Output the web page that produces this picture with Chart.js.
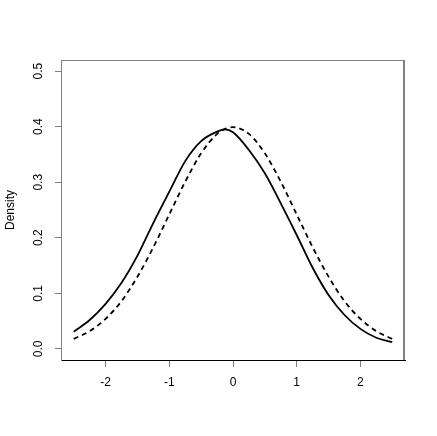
<!DOCTYPE html>
<html>
<head>
<meta charset="utf-8">
<script src="https://cdn.jsdelivr.net/npm/chart.js@4.4.1/dist/chart.umd.min.js"></script>
<style>
  html, body { margin: 0; padding: 0; background: #fff; }
  #wrap { width: 437px; height: 436px; position: relative; }
</style>
</head>
<body>
<div id="wrap"><canvas id="densityChart"></canvas></div>
<script>
// valores (x = punto de evaluacion, y = densidad)
const xGrid = [-2.5, -2.25, -2, -1.75, -1.5, -1.25, -1, -0.75, -0.5, -0.25, -0.125, 0, 0.25, 0.5, 0.75, 1, 1.25, 1.5, 1.75, 2, 2.25, 2.5];
const sampleDensity = [0.031, 0.052, 0.081, 0.119, 0.168, 0.227, 0.283, 0.338, 0.374, 0.391, 0.395, 0.390, 0.358, 0.316, 0.262, 0.205, 0.146, 0.097, 0.061, 0.036, 0.020, 0.012];
const normalDensity = [0.018, 0.032, 0.054, 0.086, 0.130, 0.183, 0.242, 0.301, 0.352, 0.387, 0.396, 0.399, 0.387, 0.352, 0.301, 0.242, 0.183, 0.130, 0.086, 0.054, 0.032, 0.018];
const xTicks = [-2, -1, 0, 1, 2];
const yTicks = [0, 0.1, 0.2, 0.3, 0.4, 0.5];
const yTickLabels = ['0.0', '0.1', '0.2', '0.3', '0.4', '0.5'];

const fontFamily = '"Liberation Sans", Arial, sans-serif';
const frameGray = '#808080';

function toPoints(xs, ys) {
    return xs.map((x, i) => ({ x: x, y: ys[i] }));
}

// caja alrededor del area de dibujo + etiquetas del eje y giradas (estilo R)
const frameAndLabels = {
    id: 'frameAndLabels',
    afterDraw(chart) {
        const ctx = chart.ctx;
        const a = chart.chartArea;
        const yScale = chart.scales.y;
        ctx.save();
        ctx.strokeStyle = frameGray;
        ctx.lineWidth = 1;
        ctx.beginPath();
        ctx.moveTo(a.left + 0.5, a.bottom);
        ctx.lineTo(a.left + 0.5, a.top + 0.5);
        ctx.lineTo(a.right, a.top + 0.5);
        ctx.stroke();
        ctx.lineWidth = 2;
        ctx.beginPath();
        ctx.moveTo(a.right - 1, a.top);
        ctx.lineTo(a.right - 1, a.bottom);
        ctx.stroke();
        ctx.fillStyle = '#000';
        ctx.font = '12px ' + fontFamily;
        ctx.textAlign = 'center';
        ctx.textBaseline = 'middle';
        yTicks.forEach((v, i) => {
            const py = yScale.getPixelForValue(v);
            ctx.save();
            ctx.translate(39, py);
            ctx.rotate(-Math.PI / 2);
            ctx.fillText(yTickLabels[i], 0, 0);
            ctx.restore();
        });
        ctx.restore();
    }
};

new Chart(document.getElementById('densityChart'), {
    type: 'line',
    data: {
        datasets: [
            {
                label: 'muestra',
                data: toPoints(xGrid, sampleDensity),
                borderColor: '#000',
                borderWidth: 1.8,
                pointRadius: 0,
                cubicInterpolationMode: 'monotone',
                fill: false
            },
            {
                label: 'normal',
                data: toPoints(xGrid, normalDensity),
                borderColor: '#000',
                borderWidth: 1.8,
                borderDash: [5, 4],
                pointRadius: 0,
                cubicInterpolationMode: 'monotone',
                fill: false
            }
        ]
    },
    options: {
        responsive: true,
        maintainAspectRatio: false,
        animation: false,
        layout: { padding: { top: 60, right: 32, left: 0, bottom: 0 } },
        plugins: {
            legend: { display: false },
            tooltip: { enabled: false }
        },
        scales: {
            x: {
                type: 'linear',
                min: -2.7,
                max: 2.7,
                afterBuildTicks: scale => { scale.ticks = xTicks.map(v => ({ value: v })); },
                afterFit: scale => { scale.height = 76; },
                grid: { drawOnChartArea: false, drawTicks: true, tickLength: 7, color: frameGray },
                border: { display: true, color: '#000' },
                ticks: {
                    color: '#000',
                    padding: 8,
                    maxRotation: 0,
                    font: { family: fontFamily, size: 12 }
                }
            },
            y: {
                type: 'linear',
                min: -0.02,
                max: 0.52,
                afterBuildTicks: scale => { scale.ticks = yTicks.map(v => ({ value: v })); },
                afterFit: scale => { scale.width = 61; },
                grid: { drawOnChartArea: false, drawTicks: true, tickLength: 6, color: frameGray },
                border: { display: true, color: frameGray },
                ticks: { display: false },
                title: {
                    display: true,
                    text: 'Density',
                    color: '#000',
                    padding: { top: 3, bottom: 0 },
                    font: { family: fontFamily, size: 12 }
                }
            }
        }
    },
    plugins: [frameAndLabels]
});
</script>
</body>
</html>
